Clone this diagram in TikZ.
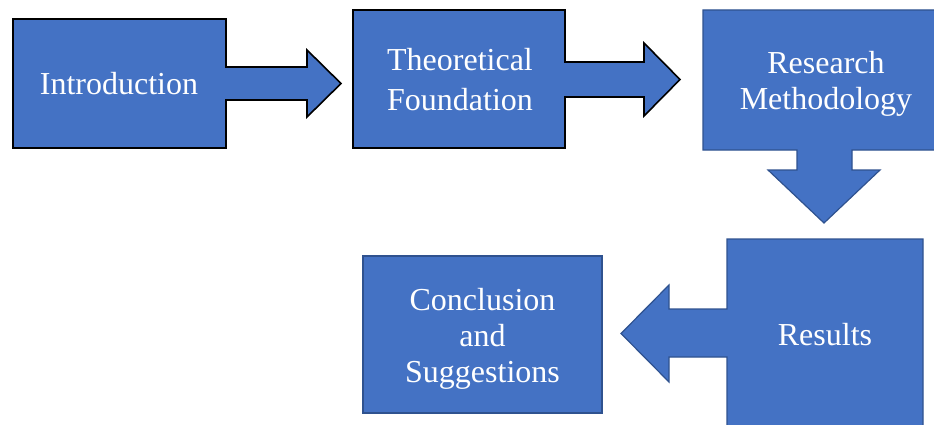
\documentclass[tikz,border=0pt]{standalone}
\usepackage{fontspec}
\setmainfont{Liberation Serif}
\definecolor{boxfill}{HTML}{4472C4}
\definecolor{boxline}{HTML}{2F528F}
\tikzset{
  blackshape/.style={fill=boxfill, draw=black, line width=1.6pt, line join=miter},
  blueshape/.style={fill=boxfill, draw=boxline, line width=1.2pt, line join=miter},
  label/.style={text=white, font=\fontsize{32}{36.5}\selectfont, align=center, inner sep=0pt}
}
\begin{document}
\begin{tikzpicture}[x=1pt,y=-1pt]
\useasboundingbox (0,0) rectangle (934,425);
\clip (0,0) rectangle (934,425);
% Introduction
\draw[blackshape] (13,19) -- (226,19) -- (226,67) -- (307,67) -- (307,50) -- (341,83.5)
  -- (307,117) -- (307,100) -- (226,100) -- (226,148) -- (13,148) -- cycle;
% Theoretical Foundation
\draw[blackshape] (353,10) -- (565,10) -- (565,62) -- (644,62) -- (644,43) -- (680,79.5)
  -- (644,116) -- (644,97) -- (565,97) -- (565,148) -- (353,148) -- cycle;
% Research Methodology
\draw[blueshape] (703,10) -- (950,10) -- (950,150) -- (852,150) -- (852,170) -- (880,170)
  -- (824,223) -- (768,170) -- (797,170) -- (797,150) -- (703,150) -- cycle;
% Results
\draw[blueshape] (727,239) -- (923,239) -- (923,445) -- (727,445) -- (727,357) -- (669,357)
  -- (669,382) -- (621,333.5) -- (669,285) -- (669,309) -- (727,309) -- cycle;
% Conclusion and Suggestions
\draw[blueshape] (363,256) rectangle (602,413);
% texts
\node[label, anchor=base] (intro) at (119,95) {Introduction};
\node[label, anchor=base, font=\fontsize{32}{40}\selectfont] (theo) at (460,110.5) {Theoretical\\Foundation};
\node[label, anchor=base] (meth) at (826,110) {Research\\Methodology};
\node[label, anchor=base] (res) at (825,345) {Results};
\node[label, anchor=base, font=\fontsize{32}{36}\selectfont] (conc) at (482.5,382) {Conclusion\\and\\Suggestions};
\end{tikzpicture}
\end{document}
